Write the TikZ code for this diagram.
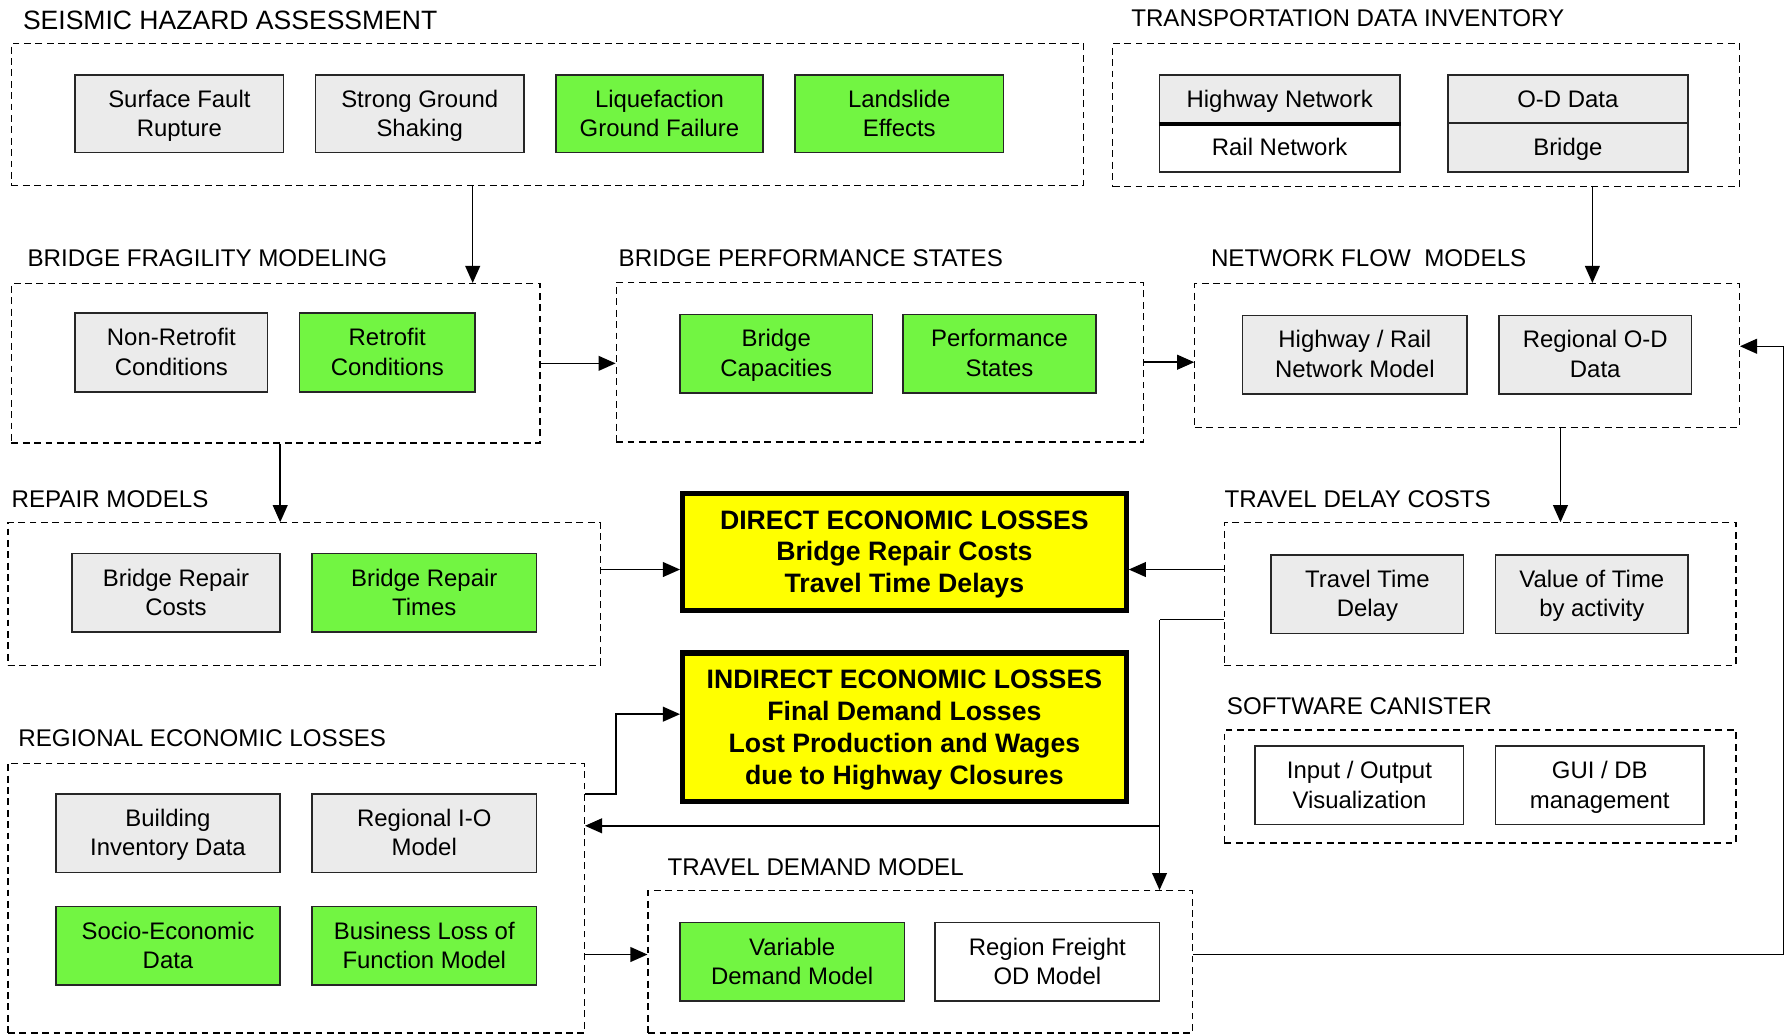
\documentclass[tikz,border=0pt]{standalone}
\usepackage{fontspec}
\setmainfont{Liberation Sans}
\usetikzlibrary{arrows.meta}
\definecolor{boxgray}{RGB}{235,235,235}
\definecolor{boxgreen}{RGB}{114,245,66}
\definecolor{boxyellow}{RGB}{255,255,0}
\newcommand{\bxt}[1]{\rule{0pt}{20pt}#1\rule[-6pt]{0pt}{6pt}}
\newcommand{\ybt}[1]{\rule{0pt}{22pt}#1\rule[-6pt]{0pt}{6pt}}
\begin{document}
\begin{tikzpicture}[x=1pt,y=-1pt,
  grp/.style={draw, dash pattern=on 6pt off 4pt, line width=1.1pt, inner sep=0},
  ttl/.style={anchor=west, inner sep=0, font=\fontsize{21.2}{26}\selectfont},
  bx/.style={draw=black!85, line width=1.4pt, align=center, inner sep=0, font=\fontsize{21}{26}\selectfont},
  gbox/.style={bx, fill=boxgray},
  grbox/.style={bx, fill=boxgreen},
  wbox/.style={bx, fill=white},
  ybox/.style={draw, line width=4.5pt, fill=boxyellow, align=center, inner sep=0, font=\bfseries\fontsize{23.4}{28}\selectfont},
  arr/.style={-{Triangle[length=15pt,width=13pt]}, line width=1.3pt},
  ln/.style={line width=1.3pt}
]
\useasboundingbox (0,0) rectangle (1568,909);

% ---------- SEISMIC HAZARD ASSESSMENT
\node[ttl, font=\fontsize{23.3}{28}\selectfont] (tsha) at (20,18) {SEISMIC HAZARD ASSESSMENT};
\node[grp, minimum width=941, minimum height=125] (sha) at (480.5,100.5) {};
\node[gbox, minimum width=183, minimum height=68] (sfr) at (157.5,100) {\bxt{Surface Fault\\Rupture}};
\node[gbox, minimum width=183, minimum height=68] (sgs) at (368.5,100) {\bxt{Strong Ground\\Shaking}};
\node[grbox, minimum width=182, minimum height=68] (lgf) at (579,100) {\bxt{Liquefaction\\Ground Failure}};
\node[grbox, minimum width=183, minimum height=68] (lse) at (789.5,100) {\bxt{Landslide\\Effects}};

% ---------- TRANSPORTATION DATA INVENTORY
\node[ttl] (ttdi) at (993,16) {TRANSPORTATION DATA INVENTORY};
\node[grp, minimum width=550, minimum height=126] (tdi) at (1252,101) {};
\node[gbox, minimum width=211, minimum height=42] (hwy) at (1123.5,87) {\bxt{Highway Network}};
\node[wbox, minimum width=211, minimum height=43] (rail) at (1123.5,129.5) {\bxt{Rail Network}};
\draw[line width=3pt] (hwy.south west) -- (hwy.south east);
\node[gbox, minimum width=211, minimum height=42] (odd) at (1376.5,87) {\bxt{O-D Data}};
\node[gbox, minimum width=211, minimum height=43] (brg) at (1376.5,129.5) {\bxt{Bridge}};

% ---------- BRIDGE FRAGILITY MODELING
\node[ttl] (tfrag) at (24,227) {BRIDGE FRAGILITY MODELING};
\node[grp, minimum width=464, minimum height=140] (frag) at (242,319) {};
\node[gbox, minimum width=169, minimum height=69] (nrc) at (150.5,309.5) {\bxt{Non-Retrofit\\Conditions}};
\node[grbox, minimum width=154, minimum height=69] (rc) at (340,309.5) {\bxt{Retrofit\\Conditions}};

% ---------- BRIDGE PERFORMANCE STATES
\node[ttl] (tperf) at (543,227) {BRIDGE PERFORMANCE STATES};
\node[grp, minimum width=463, minimum height=140] (perf) at (772.5,318) {};
\node[grbox, minimum width=169, minimum height=69] (bcap) at (681.5,310.5) {\bxt{Bridge\\Capacities}};
\node[grbox, minimum width=169, minimum height=69] (pst) at (877.5,310.5) {\bxt{Performance\\States}};

% ---------- NETWORK FLOW MODELS
\node[ttl] (tnet) at (1063,227) {NETWORK FLOW\ \ MODELS};
\node[grp, minimum width=478, minimum height=126] (net) at (1288,312) {};
\node[gbox, minimum width=197, minimum height=69] (hrn) at (1189.5,311.5) {\bxt{Highway / Rail\\Network Model}};
\node[gbox, minimum width=169, minimum height=69] (rod) at (1400.5,311.5) {\bxt{Regional O-D\\Data}};

% ---------- REPAIR MODELS
\node[ttl] (trep) at (10,438) {REPAIR MODELS};
\node[grp, minimum width=520, minimum height=125] (rep) at (267,521.5) {};
\node[gbox, minimum width=183, minimum height=69] (brc) at (154.5,520.5) {\bxt{Bridge Repair\\Costs}};
\node[grbox, minimum width=197, minimum height=69] (brt) at (372.5,520.5) {\bxt{Bridge Repair\\Times}};

% ---------- DIRECT
\node[ybox, minimum width=389.5, minimum height=102.5] (dir) at (794,484.5) {\ybt{DIRECT ECONOMIC LOSSES\\Bridge Repair Costs\\Travel Time Delays}};

% ---------- TRAVEL DELAY COSTS
\node[ttl] (ttdc) at (1075,438) {TRAVEL DELAY COSTS};
\node[grp, minimum width=449, minimum height=125] (tdc) at (1299.5,521.5) {};
\node[gbox, minimum width=169, minimum height=69] (ttd) at (1200.5,521.5) {\bxt{Travel Time\\Delay}};
\node[gbox, minimum width=169, minimum height=69] (vot) at (1397.5,521.5) {\bxt{Value of Time\\by activity}};

% ---------- INDIRECT
\node[ybox, minimum width=389.5, minimum height=130.5] (ind) at (794,638.5) {\ybt{INDIRECT ECONOMIC LOSSES\\Final Demand Losses\\Lost Production and Wages\\due to Highway Closures}};

% ---------- SOFTWARE CANISTER
\node[ttl] (tsw) at (1077,620) {SOFTWARE CANISTER};
\node[grp, minimum width=449, minimum height=99] (sw) at (1299.5,690.5) {};
\node[wbox, minimum width=183, minimum height=69] (iov) at (1193.5,689.5) {\bxt{Input / Output\\Visualization}};
\node[wbox, minimum width=183, minimum height=69] (gui) at (1404.5,689.5) {\bxt{GUI / DB\\management}};

% ---------- REGIONAL ECONOMIC LOSSES
\node[ttl] (treg) at (16,648) {REGIONAL ECONOMIC LOSSES};
\node[grp, minimum width=506, minimum height=237] (reg) at (260,788.5) {};
\node[gbox, minimum width=197, minimum height=69] (bid) at (147.5,731.5) {\bxt{Building\\Inventory Data}};
\node[gbox, minimum width=197, minimum height=69] (rio) at (372.5,731.5) {\bxt{Regional I-O\\Model}};
\node[grbox, minimum width=197, minimum height=69] (sed) at (147.5,830.5) {\bxt{Socio-Economic\\Data}};
\node[grbox, minimum width=197, minimum height=69] (blf) at (372.5,830.5) {\bxt{Business Loss of\\Function Model}};

% ---------- TRAVEL DEMAND MODEL
\node[ttl] (tdem) at (586,761) {TRAVEL DEMAND MODEL};
\node[grp, minimum width=478, minimum height=125] (dem) at (808,844.5) {};
\node[grbox, minimum width=197, minimum height=69] (vdm) at (695.5,844.5) {\bxt{Variable\\Demand Model}};
\node[wbox, minimum width=197, minimum height=69] (rfo) at (919.5,844.5) {\bxt{Region Freight\\OD Model}};

% ---------- connectors
\coordinate (a1) at (415,0);
\coordinate (a2) at (1398,0);
\coordinate (a3) at (246,0);
\coordinate (a4) at (1370,0);
\coordinate (y500) at (0,500);
\coordinate (j1) at (541,697);
\coordinate (j2) at (541,627);
\coordinate (k1) at (1018,544);
\coordinate (k2) at (1018,725);
\coordinate (m1) at (1566,838);
\coordinate (m2) at (1566,304);
\coordinate (n1) at (0,838);

\draw[arr] (sha.south -| a1) -- (frag.north -| a1);
\draw[arr] (tdi.south -| a2) -- (net.north -| a2);
\draw[arr] (frag.east) -- (frag.east -| perf.west);
\draw[arr] (perf.east) -- (perf.east -| net.west);
\draw[arr] (frag.south -| a3) -- (rep.north -| a3);
\draw[arr] (net.south -| a4) -- (tdc.north -| a4);
\draw[arr] (rep.east |- y500) -- (dir.west |- y500);
\draw[arr] (tdc.west |- y500) -- (dir.east |- y500);
\draw[arr] (reg.east |- j1) -- (j1) -- (j2) -- (ind.west |- j2);
\draw[ln] (tdc.west |- k1) -- (k1);
\draw[arr] (k1) -- (dem.north -| k1);
\draw[arr] (k2) -- (reg.east |- k2);
\draw[arr] (reg.east |- n1) -- (dem.west |- n1);
\draw[arr] (dem.east |- m1) -- (m1) -- (m2) -- (net.east |- m2);
\end{tikzpicture}
\end{document}
